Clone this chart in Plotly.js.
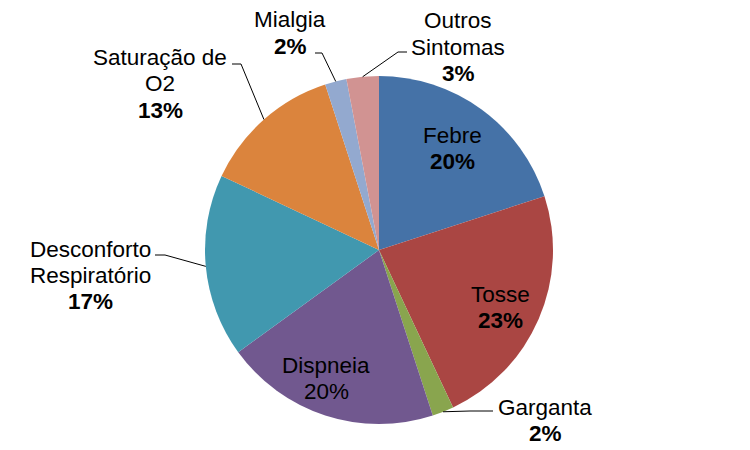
<!DOCTYPE html>
<html><head><meta charset="utf-8">
<script src="https://cdn.plot.ly/plotly-3.0.1.min.js"></script>
<style>html,body{margin:0;padding:0;background:#fff}</style>
</head><body>
<div id="chart" style="width:750px;height:450px"></div>
<script>
// ---- data ----
const categories = ["Febre","Tosse","Garganta","Dispneia","Desconforto Respiratório","Saturação de O2","Mialgia","Outros Sintomas"];
const values = [20, 23, 2, 20, 17, 13, 2, 3];
const labelLines = [["Febre"],["Tosse"],["Garganta"],["Dispneia"],["Desconforto","Respiratório"],["Saturação de","O2"],["Mialgia"],["Outros","Sintomas"]];
const boldPct = [true, true, true, false, true, true, true, true];
const colors = ["#4572A7","#AA4643","#89A54E","#71588F","#4198AF","#DB843D","#93A9CF","#D19392"];

// ---- layout (pixels) ----
const W = 750, H = 450;
const cx = 379, cy = 250, R = 174;
const lineGap = 26;
const labelPos = [[452,148],[500,307],[545,420],[326,378],[90,275],[160,84],[290,33],[458,47]];
// leader line start + elbow (null = inside label)
const leaders = [null, null, [[493,411],[470,411]], null, [[155,255],[165,255]], [[232,64],[241,64]], [[315,53],[322,53]], [[407,52],[398,52]]];

const px = x => x / W, py = y => 1 - y / H;
const total = values.reduce((a,b)=>a+b,0);
const font = {family:'"Liberation Sans", Arial, sans-serif', size:22.5, color:'#000'};

const annotations = [];
const shapes = [];
let cum = 0;
values.forEach((v,i)=>{
  const mid = (cum + v/2) / total * 2*Math.PI;
  cum += v;
  const pct = Math.round(v/total*100) + "%";
  const lines = labelLines[i].concat([boldPct[i] ? "<b>"+pct+"</b>" : pct]);
  const n = lines.length;
  lines.forEach((t,k)=>{
    annotations.push({
      x: px(labelPos[i][0]), y: py(labelPos[i][1] + (k-(n-1)/2)*lineGap),
      xref:'paper', yref:'paper', xanchor:'center', yanchor:'middle',
      showarrow:false, text: t, font: font
    });
  });
  if (leaders[i]) {
    const tx = cx + R*Math.sin(mid), ty = cy - R*Math.cos(mid);
    const [s, e] = leaders[i];
    shapes.push({type:'path', xref:'paper', yref:'paper',
      path:`M ${px(s[0])},${py(s[1])} L ${px(e[0])},${py(e[1])} L ${px(tx)},${py(ty)}`,
      line:{color:'#000', width:1}});
  }
});

const trace = {
  type:'pie', labels: categories, values: values, sort:false,
  direction:'clockwise', rotation:0, textinfo:'none', hoverinfo:'none',
  marker:{colors: colors, line:{width:0}},
  domain:{x:[px(cx-R), px(cx+R)], y:[py(cy+R), py(cy-R)]},
  showlegend:false
};

Plotly.newPlot('chart', [trace], {
  width:W, height:H, margin:{l:0,r:0,t:0,b:0},
  paper_bgcolor:'#fff', plot_bgcolor:'#fff',
  showlegend:false, annotations: annotations, shapes: shapes
}, {displayModeBar:false, staticPlot:true});
</script>
</body></html>
